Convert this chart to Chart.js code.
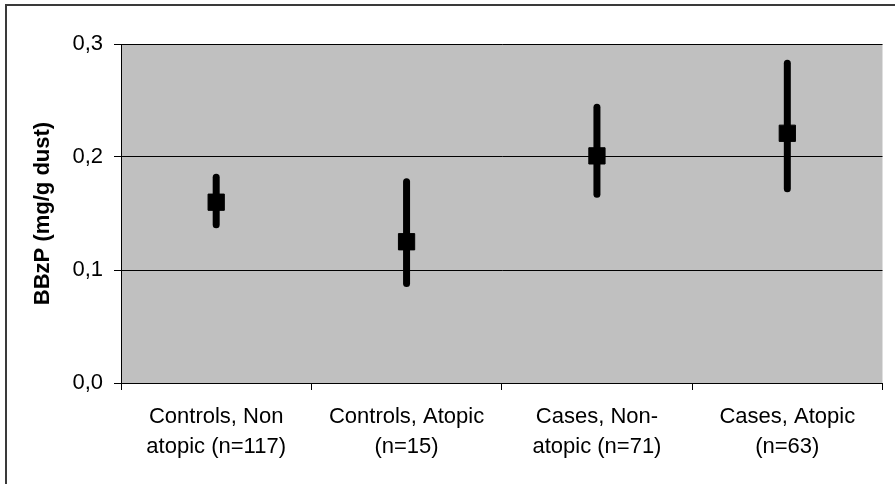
<!DOCTYPE html>
<html lang="en">
<head>
    <meta charset="UTF-8">
    <title>BBzP by group</title>
    <script src="https://cdn.jsdelivr.net/npm/chart.js"></script>
    <style>
        html, body { margin: 0; padding: 0; background: #fff; }
        .wrap { position: relative; width: 895px; height: 484px; }
    </style>
</head>
<body>
    <div class="wrap">
        <canvas id="chart" width="895" height="484"></canvas>
    </div>

    <script>
        // Dane
        const groups = [
            ['Controls, Non', 'atopic (n=117)'],
            ['Controls, Atopic', '(n=15)'],
            ['Cases, Non-', 'atopic (n=71)'],
            ['Cases, Atopic', '(n=63)']
        ];
        const means = [0.160, 0.125, 0.201, 0.221];
        const upper = [0.182, 0.178, 0.244, 0.283];
        const lower = [0.140, 0.088, 0.167, 0.172];
        const yTicks = [0, 0.1, 0.2, 0.3];

        // Szare tło obszaru wykresu + ramka
        const backgroundPlugin = {
            id: 'plotBackground',
            beforeDraw(chart) {
                const ctx = chart.ctx;
                const a = chart.chartArea;
                ctx.save();
                ctx.fillStyle = '#fff';
                ctx.fillRect(0, 0, chart.width, chart.height);
                ctx.strokeStyle = '#3a3a3a';
                ctx.lineWidth = 2;
                ctx.strokeRect(6, 5, chart.width + 20, chart.height + 20);
                ctx.fillStyle = '#c0c0c0';
                ctx.fillRect(a.left, a.top, a.right - a.left, a.bottom - a.top);
                ctx.restore();
            }
        };

        // Słupki błędów
        const errorBarPlugin = {
            id: 'errorBars',
            beforeDatasetsDraw(chart) {
                const ctx = chart.ctx;
                const xs = chart.scales.x;
                const ys = chart.scales.y;
                ctx.save();
                ctx.strokeStyle = '#000';
                ctx.lineWidth = 7;
                ctx.lineCap = 'round';
                groups.forEach((g, i) => {
                    const x = xs.getPixelForValue(i);
                    ctx.beginPath();
                    ctx.moveTo(x, ys.getPixelForValue(upper[i]));
                    ctx.lineTo(x, ys.getPixelForValue(lower[i]));
                    ctx.stroke();
                });
                ctx.restore();
            }
        };

        Chart.defaults.font.family = '"Liberation Sans", Arial, sans-serif';
        Chart.defaults.color = '#000';

        new Chart(document.getElementById('chart').getContext('2d'), {
            type: 'line',
            data: {
                labels: groups,
                datasets: [{
                    data: means,
                    showLine: false,
                    pointStyle: 'rect',
                    pointRadius: 11.5,
                    pointHoverRadius: 11.5,
                    pointBackgroundColor: '#000',
                    pointBorderColor: '#000',
                    pointBorderWidth: 1
                }]
            },
            options: {
                responsive: false,
                animation: false,
                layout: { padding: { top: 44, right: 8, left: 0, bottom: 0 } },
                plugins: {
                    legend: { display: false },
                    tooltip: { enabled: false }
                },
                scales: {
                    x: {
                        type: 'category',
                        offset: true,
                        afterFit(scale) { scale.height = 101; },
                        grid: {
                            offset: true,
                            drawOnChartArea: false,
                            drawTicks: true,
                            tickLength: 7,
                            color: '#000'
                        },
                        border: { color: '#000', width: 1 },
                        ticks: {
                            maxRotation: 0,
                            padding: 12,
                            font: { size: 22, lineHeight: 1.36 },
                            color: '#000'
                        }
                    },
                    y: {
                        min: 0,
                        max: 0.3,
                        afterFit(scale) { scale.width = 121; },
                        afterBuildTicks(scale) {
                            scale.ticks = yTicks.map(v => ({ value: v }));
                        },
                        grid: {
                            color: '#000',
                            tickLength: 7,
                            lineWidth: 1
                        },
                        border: { color: '#000', width: 1 },
                        ticks: {
                            padding: 11,
                            font: { size: 22 },
                            color: '#000',
                            callback: v => v.toFixed(1).replace('.', ',')
                        },
                        title: {
                            display: true,
                            text: 'BBzP (mg/g dust)',
                            font: { size: 22, weight: 'bold' },
                            color: '#000',
                            padding: { top: 30, bottom: 0 }
                        }
                    }
                }
            },
            plugins: [backgroundPlugin, errorBarPlugin]
        });
    </script>
</body>
</html>
